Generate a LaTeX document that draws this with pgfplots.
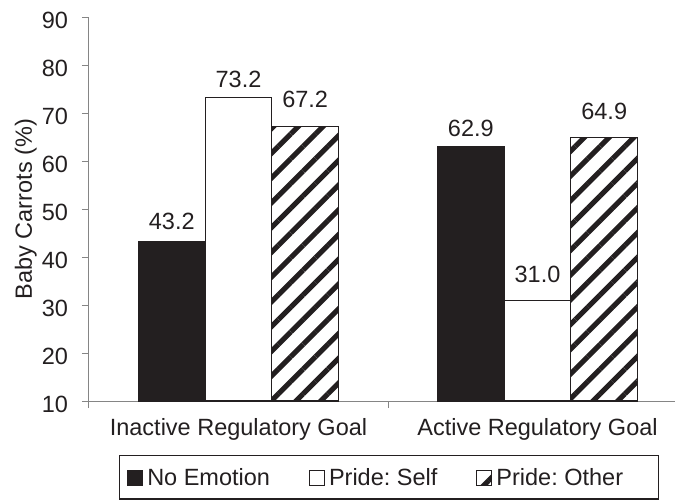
\documentclass[border=0pt]{standalone}
\usepackage{fontspec}
\setmainfont{Liberation Sans}
\usepackage{pgfplots}
\usepackage{pgfplotstable}
\pgfplotsset{compat=1.18}
\usetikzlibrary{patterns.meta}
\definecolor{ink}{HTML}{231F20}
\definecolor{axgray}{HTML}{858585}

% dy = gap (pt) between bar top and label baseline
\pgfplotstableread{
x y dy
0 43.2 11
1 62.9 10
}\noemotion
\pgfplotstableread{
x y dy
0 73.2 9
1 31.0 17
}\prideself
\pgfplotstableread{
x y dy
0 67.2 18
1 64.9 17
}\prideother

\begin{document}
\frenchspacing
\fontsize{23.5pt}{27pt}\selectfont
\begin{tikzpicture}
\useasboundingbox (-89pt,-98pt) rectangle (586pt,401pt);
\begin{axis}[
  scale only axis,
  x=299pt, y=4.8pt,
  xmin=-0.5, xmax=1.46,
  ymin=10, ymax=90,
  ytick={10,20,...,90},
  xtick={0,1},
  xticklabels={Inactive Regulatory Goal, Active Regulatory Goal},
  minor xtick={-0.5,0.5},
  axis x line=bottom, axis y line=left,
  axis line style={-, draw=axgray, line width=1pt},
  tick align=outside,
  major tick length=7pt, minor tick length=7pt,
  tick style={draw=axgray, line width=1pt},
  major x tick style={draw=none},
  /pgf/number format/assume math mode=true,
  tick label style={text=ink},
  y tick label style={xshift=-6pt, yshift=-3pt},
  x tick label style={yshift=-2pt},
  ylabel={Baby Carrots (\%)},
  ylabel style={at={(axis description cs:-0.108,0.5)}, anchor=center, text=ink},
  ybar=0pt, bar width=66.7pt,
  visualization depends on={\thisrow{dy} \as \labdy},
  nodes near coords={\pgfmathprintnumber[fixed,fixed zerofill,precision=1,assume math mode=true]{\pgfplotspointmeta}},
  every node near coord/.append style={text=ink, inner sep=0pt, anchor=south, yshift=\labdy pt},
  legend columns=3,
  legend style={at={(0.9727,-0.1406)}, anchor=north east, draw=ink, line width=1.2pt,
    inner xsep=8pt, inner ysep=13pt,
    nodes={text=ink, inner sep=0pt, text height=17pt, text depth=0pt},
    /tikz/every odd column/.append style={column sep=4pt},
    /tikz/every even column/.append style={column sep=39pt}},
  legend cell align=left,
  legend image code/.code={\draw[#1, line width=1pt] (0pt,-8.5pt) rectangle (15pt,6.5pt);},
]
\addplot[draw=ink, fill=ink, line width=1.2pt] table[x=x, y=y] {\noemotion};
\addplot[draw=ink, fill=white, line width=1.2pt] table[x=x, y=y] {\prideself};
\addplot[draw=ink, line width=1.2pt,
  pattern={Lines[angle=45, distance=17.5pt, line width=5pt]}, pattern color=ink]
  table[x=x, y=y] {\prideother};
\legend{No Emotion, Pride: Self, \makebox[154pt][l]{Pride: Other}}
\end{axis}
\end{tikzpicture}
\end{document}
